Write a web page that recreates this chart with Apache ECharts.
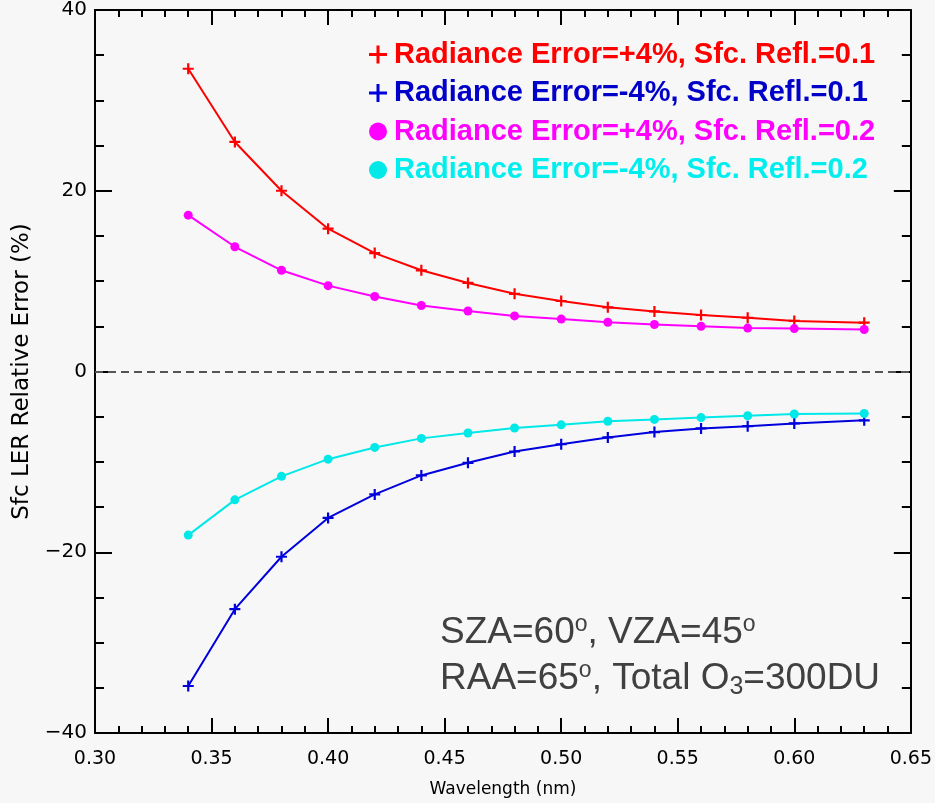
<!DOCTYPE html>
<html>
<head>
<meta charset="utf-8">
<script src="https://cdn.jsdelivr.net/npm/echarts@6/dist/echarts.min.js"></script>
<style>
html,body{margin:0;padding:0;background:#f7f7f7;}
#chart{width:935px;height:803px;}
</style>
</head>
<body>
<div id="chart"></div>
<script>
const wavelengths = [0.34, 0.36, 0.38, 0.40, 0.42, 0.44, 0.46, 0.48, 0.50, 0.52, 0.54, 0.56, 0.58, 0.60, 0.63];
const plus4Refl01  = [33.5, 25.4, 20.0, 15.8, 13.1, 11.2, 9.8, 8.6, 7.8, 7.1, 6.65, 6.25, 5.95, 5.6, 5.4];
const minus4Refl01 = [-34.8, -26.3, -20.5, -16.2, -13.6, -11.5, -10.1, -8.85, -8.05, -7.3, -6.7, -6.3, -6.05, -5.75, -5.4];
const plus4Refl02  = [17.3, 13.8, 11.2, 9.5, 8.3, 7.3, 6.7, 6.15, 5.8, 5.45, 5.2, 5.0, 4.8, 4.75, 4.65];
const minus4Refl02 = [-18.1, -14.2, -11.6, -9.7, -8.4, -7.4, -6.8, -6.25, -5.9, -5.5, -5.3, -5.1, -4.9, -4.7, -4.65];
const seriesNames = [
  'Radiance Error=+4%, Sfc. Refl.=0.1',
  'Radiance Error=-4%, Sfc. Refl.=0.1',
  'Radiance Error=+4%, Sfc. Refl.=0.2',
  'Radiance Error=-4%, Sfc. Refl.=0.2'
];
const lineColors = ['#ff0000', '#0000dd', '#ff00ff', '#00e8e8'];
const textColors = ['#ff0000', '#0000c8', '#ff00ff', '#00eeee'];
const xTicks = { min: 0.30, max: 0.65, interval: 0.05 };
const yTicks = { min: -40, max: 40, interval: 20 };

const plusPath = 'path://M4,0h2v4h4v2h-4v4h-2v-4h-4v-2h4z';
const values = [plus4Refl01, minus4Refl01, plus4Refl02, minus4Refl02];
const symbols = [plusPath, plusPath, 'circle', 'circle'];
const symSizes = [11, 11, 9, 9];

function pair(arr) { return wavelengths.map((w, i) => [w, arr[i]]); }

const axisFont = 'DejaVu Sans';
const axisLineStyle = { color: '#000', width: 2 };

const series = values.map((v, i) => ({
  name: seriesNames[i],
  type: 'line',
  xAxisIndex: 0, yAxisIndex: 0,
  data: pair(v),
  symbol: symbols[i],
  symbolSize: symSizes[i],
  showSymbol: true,
  lineStyle: { color: lineColors[i], width: 2 },
  itemStyle: { color: lineColors[i] },
  z: 3 + i,
  markLine: i === 0 ? {
    silent: true, symbol: 'none', label: { show: false },
    lineStyle: { color: '#555', type: [8, 5], width: 2 },
    data: [{ yAxis: 0 }]
  } : undefined
}));

const chart = echarts.init(document.getElementById('chart'));
chart.setOption({
  backgroundColor: '#f7f7f7',
  animation: false,
  grid: { left: 95, right: 23, top: 6, bottom: 70 },
  legend: {
    orient: 'vertical',
    left: 364,
    top: 35,
    itemGap: 9.5,
    itemWidth: 18,
    itemHeight: 18,
    selectedMode: false,
    data: seriesNames.map((n, i) => ({
      name: n,
      icon: i < 2 ? 'path://M7.5,0h3v7.5h7.5v3h-7.5v7.5h-3v-7.5h-7.5v-3h7.5z' : 'circle',
      itemStyle: { color: lineColors[i] },
      textStyle: { color: textColors[i] }
    })),
    textStyle: { fontFamily: 'Liberation Sans', fontWeight: 'bold', fontSize: 29, lineHeight: 29, padding: [0, 0, 0, 2] }
  },
  xAxis: [
    {
      type: 'value', position: 'bottom',
      min: xTicks.min, max: xTicks.max, interval: xTicks.interval,
      name: 'Wavelength (nm)', nameLocation: 'middle', nameGap: 48,
      nameTextStyle: { fontFamily: axisFont, fontSize: 17, color: '#000' },
      axisLine: { onZero: false, lineStyle: axisLineStyle },
      axisTick: { inside: true, length: 15, lineStyle: { color: '#000', width: 2 } },
      minorTick: { show: true, splitNumber: 5, length: 7, lineStyle: { color: '#000', width: 2 } },
      axisLabel: { fontFamily: axisFont, fontSize: 19, color: '#000', margin: 17, showMinLabel: true, showMaxLabel: true,
        formatter: v => v.toFixed(2) },
      splitLine: { show: false }
    },
    {
      type: 'value', position: 'top',
      min: xTicks.min, max: xTicks.max, interval: xTicks.interval,
      axisLine: { onZero: false, lineStyle: axisLineStyle },
      axisTick: { inside: true, length: 15, lineStyle: { color: '#000', width: 2 } },
      minorTick: { show: true, splitNumber: 5, length: 7, lineStyle: { color: '#000', width: 2 } },
      axisLabel: { show: false },
      splitLine: { show: false }
    }
  ],
  yAxis: [
    {
      type: 'value', position: 'left',
      min: yTicks.min, max: yTicks.max, interval: yTicks.interval,
      name: 'Sfc LER Relative Error (%)', nameLocation: 'middle', nameGap: 60,
      nameTextStyle: { fontFamily: axisFont, fontSize: 23, color: '#000' },
      axisLine: { onZero: false, lineStyle: axisLineStyle },
      axisTick: { inside: true, length: 17, lineStyle: { color: '#000', width: 2 } },
      minorTick: { show: true, splitNumber: 4, length: 9, lineStyle: { color: '#000', width: 2 } },
      axisLabel: { fontFamily: axisFont, fontSize: 20, color: '#000', margin: 8, showMinLabel: true, showMaxLabel: true,
        formatter: v => String(v).replace('-', '\u2212') },
      splitLine: { show: false }
    },
    {
      type: 'value', position: 'right',
      min: yTicks.min, max: yTicks.max, interval: yTicks.interval,
      axisLine: { onZero: false, lineStyle: axisLineStyle },
      axisTick: { inside: true, length: 17, lineStyle: { color: '#000', width: 2 } },
      minorTick: { show: true, splitNumber: 4, length: 9, lineStyle: { color: '#000', width: 2 } },
      axisLabel: { show: false },
      splitLine: { show: false }
    }
  ],
  graphic: [{
    type: 'text',
    left: 440,
    top: 613,
    z: 10,
    style: {
      text: '{a|SZA=60}{s|o}{a|, VZA=45}{s|o}\n{a|RAA=65}{s|o}{a|, Total O}{b|3}{a|=300DU}',
      fill: '#404040',
      rich: {
        a: { fontFamily: 'Liberation Sans', fontSize: 37, color: '#404040', lineHeight: 46 },
        s: { fontFamily: 'Liberation Sans', fontSize: 23, color: '#404040', lineHeight: 46, padding: [0, 0, 16, 0] },
        b: { fontFamily: 'Liberation Sans', fontSize: 25, color: '#404040', lineHeight: 46, padding: [18, 0, 0, 0] }
      }
    }
  }],
  series: series
});
</script>
</body>
</html>
